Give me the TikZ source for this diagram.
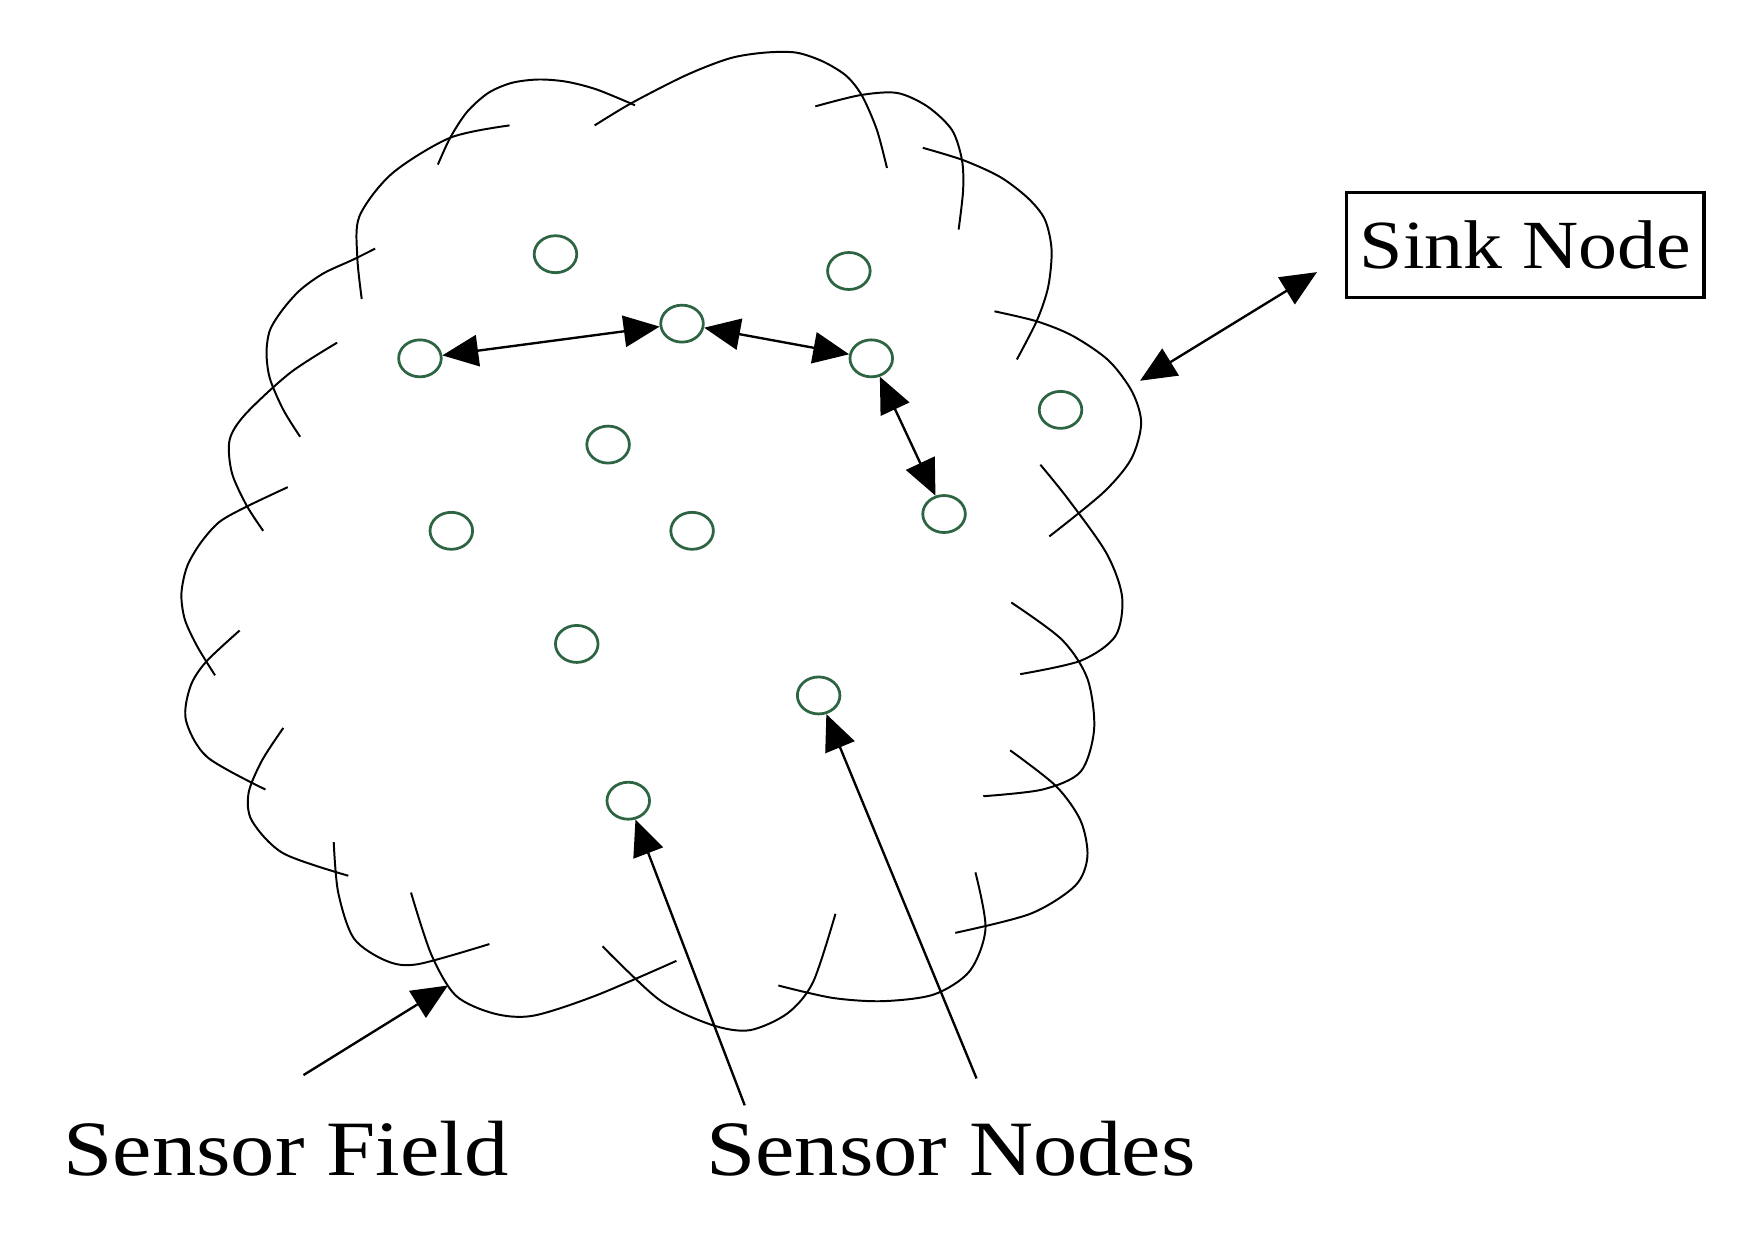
\documentclass[tikz,border=0pt]{standalone}
\usepackage{fontspec}
\setmainfont{Liberation Serif}[FakeStretch=1.13]
\usetikzlibrary{arrows.meta, shapes.geometric}
\definecolor{nodegreen}{RGB}{45,100,65}

\begin{document}
\begin{tikzpicture}[x=0.01cm, y=-0.01cm,
  every node/.style={align=center},
  sensor/.style={draw=nodegreen, ellipse, line width=0.7pt,
                 minimum width=0.38cm, minimum height=0.33cm, inner sep=0pt},
  cloudline/.style={line width=0.5pt},
  link/.style={{Triangle[length=3.2mm, width=2.8mm]}-{Triangle[length=3.2mm, width=2.8mm]}, line width=0.6pt},
  pointer/.style={-{Triangle[length=3.2mm, width=2.8mm]}, line width=0.6pt},
  bigtext/.style={font=\fontsize{19.9}{24}\selectfont, anchor=base west, inner sep=0pt}
]
  \useasboundingbox (0,0) rectangle (1568,1107);

  % sensor field outline
  \draw[cloudline] plot[smooth] coordinates {(391,147) (402,123) (417,100) (436,83) (457,74) (481,71) (506,73) (533,80) (567,94)};
  \draw[cloudline] plot[smooth] coordinates {(531,112) (564,92) (613,67) (652,52) (683,47) (711,47) (735,55) (756,68) (770,86) (783,116) (792,150)};
  \draw[cloudline] plot[smooth] coordinates {(728,95) (768,85) (801,83) (828,95) (850,116) (859,143) (860,170) (856,205)};
  \draw[cloudline] plot[smooth] coordinates {(455,112) (402,123) (350,155) (321,193) (319,229) (323,267)};
  \draw[cloudline] plot[smooth] coordinates {(824,132) (860,143) (893,158) (918,177) (933,196) (939,223) (936,256) (926,286) (908,321)};
  \draw[cloudline] plot[smooth] coordinates {(335,222) (315,232) (289,244) (268,259) (252,277) (241,295) (238,315) (241,338) (253,366) (268,390)};
  \draw[cloudline] plot[smooth] coordinates {(888,278) (926,287) (958,300) (990,322) (1011,350) (1019,378) (1010,410) (985,440) (937,479)};
  \draw[cloudline] plot[smooth] coordinates {(301,306) (259,333) (219,370) (205,393) (207,422) (220,451) (235,474)};
  \draw[cloudline] plot[smooth] coordinates {(257,435) (221,452) (196,466) (179,485) (167,506) (162,530) (165,553) (176,577) (192,603)};
  \draw[cloudline] plot[smooth] coordinates {(214,563) (184,591) (170,613) (166,643) (185,676) (237,705)};
  \draw[cloudline] plot[smooth] coordinates {(253,650) (234,679) (222,708) (225,733) (253,762) (311,782)};
  \draw[cloudline] plot[smooth] coordinates {(298,752) (302,797) (316,838) (345,858) (373,861) (437,843)};
  \draw[cloudline] plot[smooth] coordinates {(367,797) (385,852) (407,889) (441,905) (476,907) (532,889) (604,858)};
  \draw[cloudline] plot[smooth] coordinates {(538,845) (589,893) (635,915) (669,920) (703,905) (726,877) (746,816)};
  \draw[cloudline] plot[smooth] coordinates {(695,880) (743,891) (788,894) (834,888) (866,867) (880,829) (871,779)};
  \draw[cloudline] plot[smooth] coordinates {(853,833) (920,816) (960,791) (971,765) (965,733) (943,702) (902,670)};
  \draw[cloudline] plot[smooth] coordinates {(878,711) (931,705) (965,689) (977,651) (971,606) (948,571) (903,538)};
  \draw[cloudline] plot[smooth] coordinates {(911,602) (965,590) (996,568) (1002,533) (988,494) (954,446) (929,415)};

  % sensor nodes
  \node[sensor] (s1) at (496,227) {};
  \node[sensor] (s2) at (758,242) {};
  \node[sensor] (s3) at (609,289) {};
  \node[sensor] (s4) at (375,320) {};
  \node[sensor] (s5) at (778,320) {};
  \node[sensor] (s6) at (947,366) {};
  \node[sensor] (s7) at (543,397) {};
  \node[sensor] (s8) at (403,474) {};
  \node[sensor] (s9) at (618,474) {};
  \node[sensor] (s10) at (843,459) {};
  \node[sensor] (s11) at (515,575) {};
  \node[sensor] (s12) at (731,621) {};
  \node[sensor] (s13) at (561,715) {};

  \node[draw, line width=0.8pt, minimum width=3.19cm, minimum height=0.94cm, inner sep=0pt,
        font=\fontsize{17.5}{21}\selectfont] (sink) at (1362,219) {Sink Node};

  \node[bigtext] (fieldtext) at (56,1050) {Sensor Field};
  \node[bigtext] (nodestext) at (630,1050) {Sensor Nodes};

  \coordinate (edge) at (1018,340);
  \coordinate (fieldedge) at (400,880);
  \coordinate (fieldtail) at (271,960);
  \coordinate (tailA) at (665,987);
  \coordinate (tailB) at (872,963);

  \draw[link] (s4) -- (s3);
  \draw[link] (s3) -- (s5);
  \draw[link] (s5) -- (s10);
  \draw[link] ([shift={(-25,24)}]sink.west) -- (edge);
  \draw[pointer] (fieldtail) -- (fieldedge);
  \draw[pointer] (tailA) -- (s13);
  \draw[pointer] (tailB) -- (s12);
\end{tikzpicture}
\end{document}
